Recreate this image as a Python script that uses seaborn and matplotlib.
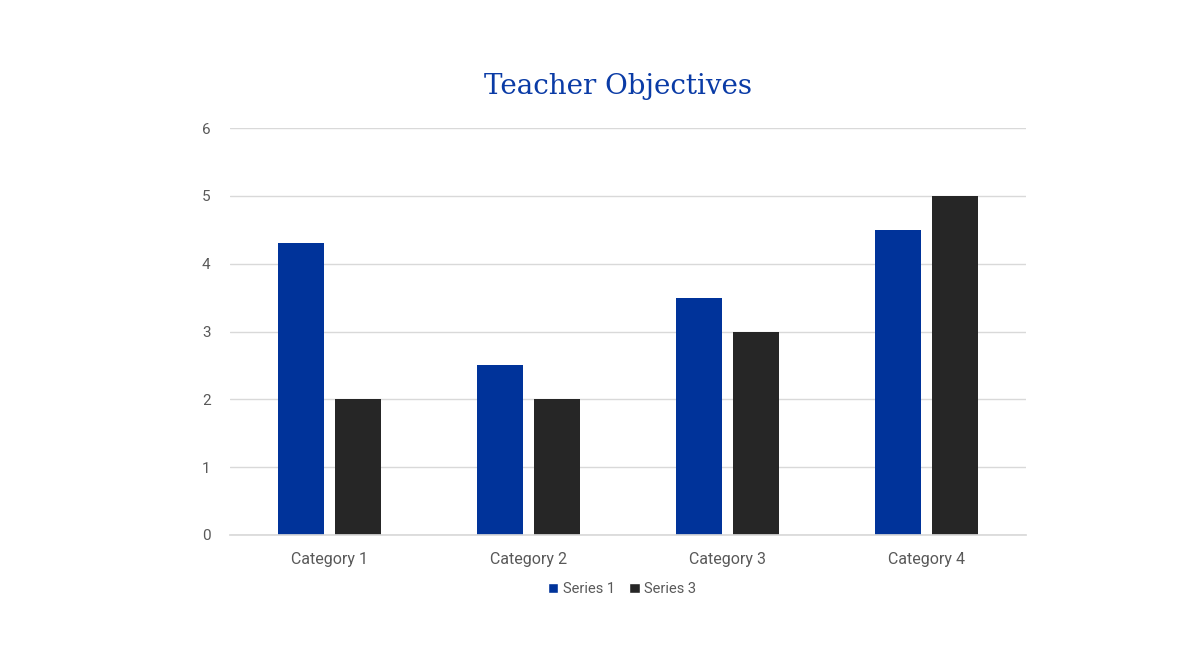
import matplotlib
matplotlib.use("Agg")
import matplotlib.pyplot as plt
import seaborn as sns
import pandas as pd

categories = ["Category 1", "Category 2", "Category 3", "Category 4"]
series_names = ["Series 1", "Series 3"]
series1 = [4.3, 2.5, 3.5, 4.5]
series3 = [2.0, 2.0, 3.0, 5.0]
colors = ["#00339A", "#262626"]

df = pd.DataFrame({
    "category": categories * 2,
    "series": [series_names[0]] * 4 + [series_names[1]] * 4,
    "value": series1 + series3,
})

sns.set_theme(style="white")
plt.rcParams["font.family"] = ["Roboto", "DejaVu Sans"]

fig = plt.figure(figsize=(12, 6.54), dpi=100)
ax = fig.add_axes([230/1200, 1-535/654, (1026-230)/1200, (535-128)/654])

sns.barplot(data=df, x="category", y="value", hue="series", palette=colors,
            width=0.574, gap=0.21, ax=ax, saturation=1, legend=False,
            linewidth=0)

ax.set_ylim(0, 6)
ax.set_xlim(-0.5, 3.5)
ax.set_yticks(range(0, 7))
ax.grid(axis="y", color="#d9d9d9", linewidth=1)
ax.set_axisbelow(True)
for s in ["top", "right", "left"]:
    ax.spines[s].set_visible(False)
ax.spines["bottom"].set_color("#d9d9d9")
ax.tick_params(axis="both", length=0, labelcolor="#595959")
ax.tick_params(axis="y", pad=14, labelsize=11)
ax.tick_params(axis="x", pad=12, labelsize=11.5)
ax.set_xlabel("")
ax.set_ylabel("")

from matplotlib.patches import Patch
handles = [Patch(facecolor=c, label=n) for c, n in zip(colors, series_names)]
fig.legend(handles=handles, loc="center", bbox_to_anchor=(622/1200, 1-589/654),
           ncol=2, frameon=False, fontsize=10.5, handlelength=0.7, handleheight=0.7,
           handletextpad=0.3, columnspacing=1.0, labelcolor="#595959")

fig.text(618/1200, 1-87/654, "Teacher Objectives", ha="center", va="center",
         fontsize=20, color="#0A3BA6", family=["DejaVu Serif"])

fig.savefig("out.png", dpi=100, facecolor="white")
